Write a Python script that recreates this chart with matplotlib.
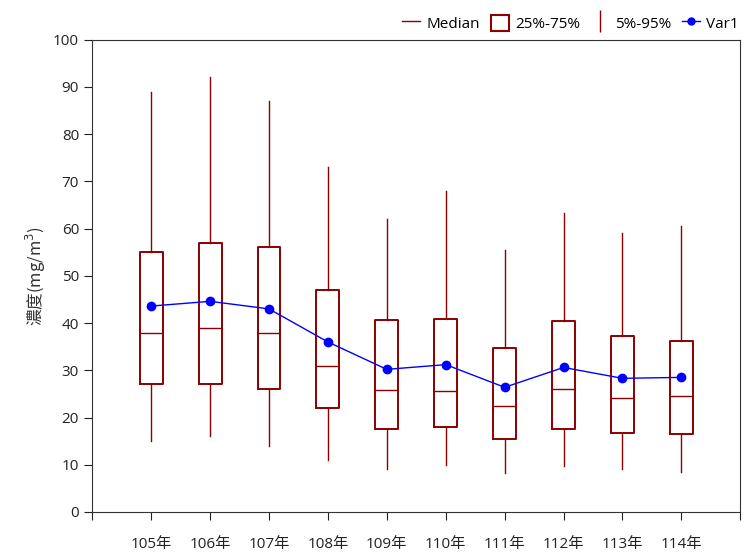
import matplotlib
matplotlib.use("Agg")
import matplotlib.pyplot as plt
from matplotlib.lines import Line2D
from matplotlib.patches import Patch

plt.rcParams['font.family'] = ['Open Sans', 'Noto Sans CJK TC', 'DejaVu Sans']

years = ['105年', '106年', '107年', '108年', '109年', '110年', '111年', '112年', '113年', '114年']
p95 = [89, 92, 87, 73, 62, 68, 55.5, 63.3, 59, 60.5]
q3 = [55, 57, 56, 47, 40.7, 40.8, 34.7, 40.5, 37.2, 36.3]
median = [38, 39, 38, 31, 25.8, 25.7, 22.5, 26, 24.2, 24.5]
q1 = [27, 27, 26, 22, 17.5, 18, 15.5, 17.5, 16.8, 16.5]
p5 = [15, 16, 14, 11, 9, 10, 8.2, 9.8, 9, 8.5]
mean = [43.6, 44.6, 43, 36, 30.2, 31.2, 26.4, 30.6, 28.3, 28.5]

red = '#8b0000'
fig = plt.figure(figsize=(7.44, 5.55), dpi=100)
ax = fig.add_axes([0.124, 0.0775, 0.871, 0.851])

pos = list(range(1, len(years) + 1))
stats = []
for i in range(len(years)):
    stats.append(dict(med=median[i], q1=q1[i], q3=q3[i], whislo=p5[i], whishi=p95[i], fliers=[]))

ax.bxp(stats, positions=pos, widths=0.39, showcaps=False, showfliers=False,
       boxprops=dict(color=red, linewidth=1.4),
       medianprops=dict(color=red, linewidth=1),
       whiskerprops=dict(color=red, linewidth=1))

ax.plot(pos, mean, color='blue', marker='o', markersize=6, linewidth=1, zorder=5)

ax.set_xlim(0, 11)
ax.set_ylim(0, 100)
ax.set_xticks(range(0, 12))
ax.set_xticklabels([''] + years + [''])
ax.set_yticks(range(0, 101, 10))
ax.tick_params(axis='both', direction='out', length=6, labelsize=11, colors='#222222')
ax.tick_params(axis='x', pad=12)
for s in ax.spines.values():
    s.set_color('#333333')
ax.set_ylabel('濃度(mg/m$^3$)', fontsize=12, color='#333333', family=['Noto Sans CJK TC'])

handles = [
    Line2D([], [], color=red, linewidth=1),
    Patch(facecolor='white', edgecolor=red, linewidth=1.5),
    Line2D([], [], color=red, marker='|', linestyle='none', markersize=16),
    Line2D([], [], color='blue', marker='o', markersize=5, linewidth=1),
]
ax.legend(handles, ['Median', '25%-75%', '5%-95%', 'Var1'], loc='lower right',
          bbox_to_anchor=(1.01, 1.0), ncol=4, frameon=False, fontsize=11,
          handlelength=1.2, handleheight=1.3, handletextpad=0.4, columnspacing=0.7,
          borderaxespad=0.1)

fig.savefig('out.png', dpi=100)
